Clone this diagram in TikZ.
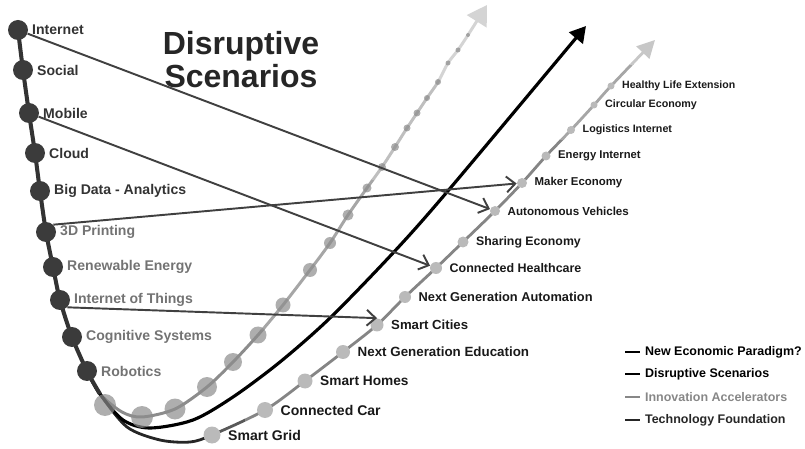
\documentclass[tikz,border=0pt]{standalone}
\usepackage{fontspec}
\setmainfont{Liberation Sans}
\usetikzlibrary{positioning,arrows.meta,backgrounds}

\begin{document}
\begin{tikzpicture}[x=0.02cm, y=-0.02cm, >={Straight Barb[length=5pt,width=9pt]},
    tdot/.style={circle, fill=black!77, inner sep=0pt, minimum size=#1*0.02cm},
    idot/.style={circle, fill=black!45, opacity=.7, inner sep=0pt, minimum size=#1*0.02cm},
    sdot/.style={circle, fill=black!27, inner sep=0pt, minimum size=#1*0.02cm},
    flab/.style={font=\fontsize{8}{9}\selectfont\bfseries},
    link/.style={->, draw=black!75, line width=1.1pt},
    legline/.style={line width=1.6pt}]
	\tikzstyle{every node}=[inner sep=1pt]
	\useasboundingbox (0,0) rectangle (805,449);
	\foreach \n/\x/\y/\c/\t in {internet/18/30/80/Internet, social/23/70/80/Social,
	  mobile/29/113/80/Mobile, cloud/35/153/80/Cloud, bigdata/40/191/80/Big Data - Analytics,
	  printing/46/232/55/3D Printing, renewable/53/267/55/Renewable Energy,
	  iot/60/300/55/Internet of Things, cognitive/72/337/55/Cognitive Systems,
	  robotics/87/371/55/Robotics}
	{
		\node[tdot=20] (\n) at (\x,\y) {};
		\node[flab, text=black!\c, right=1pt of \n] (\n-lab) {\t};
	}
	\foreach \n/\x/\y/\r/\s/\t in {grid/212/435/17/8/Smart Grid, car/265/410/16/8/Connected Car,
	  homes/305/381/15/7.8/Smart Homes, edu/343/352/14/7.6/Next Generation Education,
	  cities/377/325/13/7.5/Smart Cities, autom/405/297/12/7.3/Next Generation Automation,
	  health/436/268/12/7.1/Connected Healthcare, sharing/463/242/11/7/Sharing Economy,
	  vehicles/495/211/10/6.6/Autonomous Vehicles, maker/522/183/10/6.5/Maker Economy,
	  energy/546/156/9/6.4/Energy Internet, logistics/571/130/8/6.1/Logistics Internet,
	  circular/594/105/7/6.1/Circular Economy, healthy/611/86/7/6/Healthy Life Extension}
	{
		\node[sdot=\r] (\n) at (\x,\y) {};
		\node[font=\fontsize{\s}{\s}\selectfont\bfseries, text=black!90, right=3pt of \n] (\n-lab) {\t};
	}
	\foreach \x/\y/\r [count=\k] in {105/405/22, 142/417/22, 175/409/21, 207/387/20, 233/362/18,
	  258/335/17, 283/305/15, 310/270/14, 330/243/12, 348/215/11, 367/188/9, 382/167/8,
	  395/147/8, 407/128/7, 417/113/7, 427/98/6, 438/82/6, 448/63/5, 458/50/5, 468/35/4}
		\node[idot=\r] (acc\k) at (\x,\y) {};
	\coordinate (split) at (100,394);
	\coordinate (acctip) at (487,5);
	\coordinate (newtip) at (586,26);
	\coordinate (dstip) at (655,40);
	\begin{scope}[on background layer]
		\foreach \ya/\yb/\c in {330/460/45, 180/330/35, 80/180/25, -10/80/17}
		{
			\begin{scope}
				\clip (0,\ya) rectangle (805,\yb);
				\draw[black!\c, line width=1.7pt, -{Triangle[length=11pt,width=13pt]}]
				  plot[smooth] coordinates {(robotics) (split) (122,412) (acc2) (acc3) (acc4) (acc5)
				  (acc6) (acc7) (acc8) (acc9) (acc10) (acc11) (acc12) (acc13) (acc14) (acc15) (acc16)
				  (acc17) (acc18) (acc19) (acc20) (acctip)};
			\end{scope}
		}
		\foreach \xa/\ya/\xb/\yb/\c in {0/0/205/460/85, 205/0/245/460/65, 245/140/805/460/48,
		  245/65/805/140/35, 245/-10/805/65/22}
		{
			\begin{scope}
				\clip (\xa,\ya) rectangle (\xb,\yb);
				\draw[black!\c, line width=1.6pt, -{Triangle[length=10pt,width=10pt]}]
				  plot[smooth] coordinates {(robotics) (split) (127,427) (160,440) (190,442) (grid) (car)
				  (homes) (edu) (cities) (autom) (health) (sharing) (vehicles) (maker) (energy)
				  (logistics) (circular) (healthy) (dstip)};
			\end{scope}
		}
		\draw[black, line width=1.8pt, -{Triangle[length=9pt,width=10pt]}]
		  plot[smooth] coordinates {(robotics) (split) (123,420) (150,428) (193,420) (233,397)
		  (280,362) (330,318) (393,253) (447,192) (newtip)};
		\draw[black!80, line width=2.3pt]
		  plot[smooth] coordinates {(internet) (social) (mobile) (cloud) (bigdata) (printing)
		  (renewable) (iot) (cognitive) (robotics) (split)};
	\end{scope}
	\draw[link] (internet) -- (vehicles);
	\draw[link] (mobile) -- (health);
	\draw[link] (printing.north east) -- (maker);
	\draw[link] (iot.south east) -- (cities.north);
	\node[font=\fontsize{18.2}{18.7}\selectfont\bfseries, text=black!85, align=center] (title) at (241,60) {Disruptive\\Scenarios};
	\foreach \n/\y/\c/\t in {newparadigm/352/black/New Economic Paradigm?,
	  disruptive/374/black/Disruptive Scenarios, accelerators/397/black!47/Innovation Accelerators,
	  foundation/420/black!85/Technology Foundation}
	{
		\coordinate (\n-a) at (625,\y);
		\coordinate (\n-b) at (640,\y);
		\draw[legline, \c] (\n-a) -- (\n-b);
		\node[font=\fontsize{7.1}{8}\selectfont\bfseries, text=\c, anchor=west] (\n) at (643,\y) {\t};
	}
\end{tikzpicture}
\end{document}
